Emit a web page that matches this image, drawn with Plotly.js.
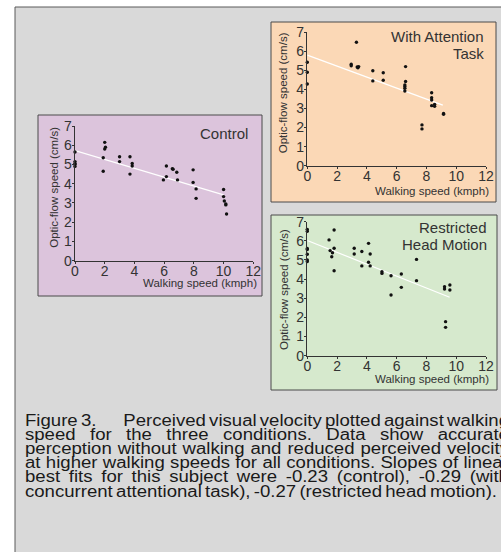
<!DOCTYPE html>
<html>
<head>
<meta charset="utf-8">
<script src="https://cdn.plot.ly/plotly-3.0.1.min.js"></script>
<style>
  body { margin:0; background:#fff; }
  #wrap { position:relative; width:501px; height:552px; overflow:hidden; }
  #chart { position:absolute; left:0; top:0; width:501px; height:552px; }
  #cap { position:absolute; left:25px; top:413.6px; width:600px; height:90px; transform-origin:0 0;
         font-family:"Liberation Sans", Arial, sans-serif; color:#1a1a1a; }
  .ln { position:absolute; height:14.2px; line-height:14.2px; white-space:nowrap; }
  .jf { display:flex; justify-content:space-between; }
</style>
</head>
<body>
<div id="wrap">
  <div id="chart"></div>
  <div id="cap"></div>
</div>
<script>
// ---- Data ----
const xTicks = [0, 2, 4, 6, 8, 10, 12];
const yTicks = [0, 1, 2, 3, 4, 5, 6, 7];

const controlX = [0,0,0,0,0, 1.9,1.9,2.0,2.0,2.05, 3.0,3.0, 3.7,3.7,3.85,3.85, 5.95,6.15,6.15, 6.55,6.6,6.85,6.9, 7.95,7.95,8.15,8.15, 10.0,10.0,10.05,10.15,10.15,10.2];
const controlY = [5.65,5.15,5.05,5.0,4.9, 5.35,4.65,6.15,5.8,5.9, 5.4,5.15, 5.4,4.5,5.05,4.92, 4.2,4.92,4.37, 4.78,4.75,4.6,4.2, 4.72,4.07,3.73,3.24, 3.7,3.33,3.1,2.95,2.9,2.43];
const controlFitX = [0, 10.0];
const controlFitY = [5.72, 3.42];

const attentionX = [0,0,0, 2.95,2.95, 3.3,3.35,3.4,3.45, 4.4,4.4, 5.1,5.1, 6.6,6.6,6.55,6.55,6.55,6.55, 7.7,7.7, 8.35,8.35,8.35,8.35,8.55,8.55, 9.15,9.15];
const attentionY = [5.43,4.9,4.29, 5.32,5.24, 6.48,5.18,5.14,5.2, 4.98,4.45, 4.88,4.48, 5.2,4.42,4.24,4.15,4.06,3.92, 2.14,1.93, 3.83,3.57,3.45,3.15,3.22,3.12, 2.74,2.7];
const attentionFitX = [0, 9.1];
const attentionFitY = [5.8, 3.18];

const restrictedX = [0,0,0,0,0,0,0, 1.46,1.53,1.64,1.69,1.8,1.8,1.8, 3.15,3.15,3.66,3.66,4.11,4.11,4.22,4.22, 5.01,5.01, 5.62,5.62, 6.31,6.31, 7.33,7.33, 9.21,9.21,9.57,9.57,9.28,9.28];
const restrictedY = [6.6,6.5,5.6,5.55,5.3,5.0,4.92, 6.05,5.49,5.17,5.38,6.57,5.61,4.44, 5.61,5.31,5.44,4.69,5.87,4.88,5.31,4.69, 4.39,4.3, 4.18,3.17, 4.27,3.57, 5.03,3.92, 3.6,3.48,3.69,3.43,1.78,1.48];
const restrictedFitX = [0, 9.55];
const restrictedFitY = [6.02, 3.05];

const panelTitles = { control: ["Control"], attention: ["With Attention", "Task"], restricted: ["Restricted", "Head Motion"] };
const xTitle = "Walking speed (kmph)";
const yTitle = "Optic-flow speed (cm/s)";
const captionHead = "Figure 3.";
const captionLines = [
  "Perceived visual velocity plotted against walking",
  "speed for the three conditions. Data show accurate",
  "perception without walking and reduced perceived velocity",
  "at higher walking speeds for all conditions. Slopes of linear",
  "best fits for this subject were -0.23 (control), -0.29 (with",
  "concurrent attentional task), -0.27 (restricted head motion)."
];

// ---- Layout helpers ----
const W = 501, H = 552;
const px = x => x / W;
const py = y => 1 - y / H;
const FONT = '"Liberation Sans", Arial, sans-serif';
const AX = '#333333';

function scatter(x, y, xa, ya) {
  return { x, y, xaxis: xa, yaxis: ya, type: 'scatter', mode: 'markers', cliponaxis: false,
           marker: { size: 3.4, color: '#111' }, hoverinfo: 'none', showlegend: false };
}
function fit(x, y, xa, ya) {
  return { x, y, xaxis: xa, yaxis: ya, type: 'scatter', mode: 'lines', cliponaxis: false,
           line: { color: '#ffffff', width: 1.2 }, hoverinfo: 'none', showlegend: false };
}
const traces = [
  fit(controlFitX, controlFitY, 'x', 'y'),
  scatter(controlX, controlY, 'x', 'y'),
  fit(attentionFitX, attentionFitY, 'x2', 'y2'),
  scatter(attentionX, attentionY, 'x2', 'y2'),
  fit(restrictedFitX, restrictedFitY, 'x3', 'y3'),
  scatter(restrictedX, restrictedY, 'x3', 'y3')
];

function xa(dom, anchor) {
  return { domain: dom, anchor, range: [0, 12], tickvals: xTicks, ticktext: xTicks.map(String),
           showgrid: false, zeroline: false, showline: true, linecolor: AX, linewidth: 1,
           ticks: 'outside', ticklen: 2.5, tickcolor: AX, ticklabelstandoff: -5,
           tickfont: { family: FONT, size: 14, color: AX }, fixedrange: true };
}
function ya(dom, anchor) {
  return { domain: dom, anchor, range: [0, 7], tickvals: yTicks, ticktext: yTicks.map(String),
           showgrid: false, zeroline: false, showline: true, linecolor: AX, linewidth: 1,
           ticks: 'outside', ticklen: 2.5, tickcolor: AX, ticklabelstandoff: -3,
           tickfont: { family: FONT, size: 14, color: AX }, fixedrange: true };
}

function rect(x0, y0, x1, y1, fill, line) {
  return { type: 'rect', xref: 'paper', yref: 'paper', x0: px(x0), x1: px(x1), y0: py(y1), y1: py(y0),
           fillcolor: fill, line: { color: line, width: 1 }, layer: 'below' };
}
const shapes = [
  rect(15, 7, 540, 600, '#d9d9d9', '#5a5a5a'),
  rect(38, 115, 262, 296, '#dcc4dc', '#4a4a4a'),
  rect(271, 22, 496, 202, '#fbd8b6', '#4a4a4a'),
  rect(271, 215, 497, 390, '#d6e9cd', '#4a4a4a')
];

function ann(text, x, y, xanchor, size, angle) {
  return { text, xref: 'paper', yref: 'paper', x: px(x), y: py(y), xanchor, yanchor: 'middle',
           showarrow: false, textangle: angle || 0, font: { family: FONT, size, color: '#333' } };
}
const annotations = [
  ann(panelTitles.control[0], 250, 134, 'right', 15),
  ann(panelTitles.attention[0], 486, 36.7, 'right', 15),
  ann(panelTitles.attention[1], 486, 53.3, 'right', 15),
  ann(panelTitles.restricted[0], 488.5, 227.7, 'right', 15),
  ann(panelTitles.restricted[1], 488.5, 244.3, 'right', 15),
  ann(xTitle, 258.5, 283.3, 'right', 11.5),
  ann(xTitle, 491, 190.7, 'right', 11.5),
  ann(xTitle, 491, 379.3, 'right', 11.5),
  ann(yTitle, 53.3, 187.5, 'center', 11.5, -90),
  ann(yTitle, 283.3, 93, 'center', 11.5, -90),
  ann(yTitle, 283.3, 289.7, 'center', 11.5, -90)
];

const layout = {
  width: W, height: H, margin: { l: 0, r: 0, t: 0, b: 0 },
  paper_bgcolor: '#ffffff', plot_bgcolor: 'rgba(0,0,0,0)', showlegend: false,
  xaxis: xa([px(75), px(253.3)], 'y'),
  yaxis: ya([py(260.7), py(126)], 'x'),
  xaxis2: xa([px(307.3), px(486)], 'y2'),
  yaxis2: ya([py(165.7), py(32.3)], 'x2'),
  xaxis3: xa([px(307.3), px(486.1)], 'y3'),
  yaxis3: ya([py(355.7), py(221.7)], 'x3'),
  shapes, annotations
};

Plotly.newPlot('chart', traces, layout, { displayModeBar: false, staticPlot: true });

// ---- Caption (justified text block, as in the source figure) ----
(function () {
  const cap = document.getElementById('cap');
  cap.style.fontSize = '16px';
  cap.style.wordSpacing = '-0.1em';
  const probe = document.createElement('span');
  probe.className = 'ln';
  probe.textContent = captionLines[5];
  cap.appendChild(probe);
  const natural = probe.getBoundingClientRect().width;
  cap.removeChild(probe);
  const s = 472 / natural;
  cap.style.transform = 'scaleX(' + s + ')';
  const fullW = (509 - 25) / s;
  function justified(text, left, width, top) {
    const d = document.createElement('div');
    d.className = 'ln jf';
    d.style.left = left + 'px'; d.style.width = width + 'px'; d.style.top = top + 'px';
    text.split(' ').forEach(w => { const sp = document.createElement('span'); sp.textContent = w; d.appendChild(sp); });
    cap.appendChild(d);
  }
  captionLines.forEach((t, i) => {
    const top = i * 14.2;
    if (i === 0) {
      const h = document.createElement('div');
      h.className = 'ln'; h.style.left = '0px'; h.style.top = top + 'px';
      h.textContent = captionHead;
      cap.appendChild(h);
      const startX = (123.3 - 25) / s;
      justified(t, startX, fullW - startX, top);
    } else if (i < captionLines.length - 1) {
      justified(t, 0, fullW, top);
    } else {
      const d = document.createElement('div');
      d.className = 'ln'; d.style.left = '0px'; d.style.top = top + 'px';
      d.textContent = t;
      cap.appendChild(d);
    }
  });
})();
</script>
</body>
</html>
